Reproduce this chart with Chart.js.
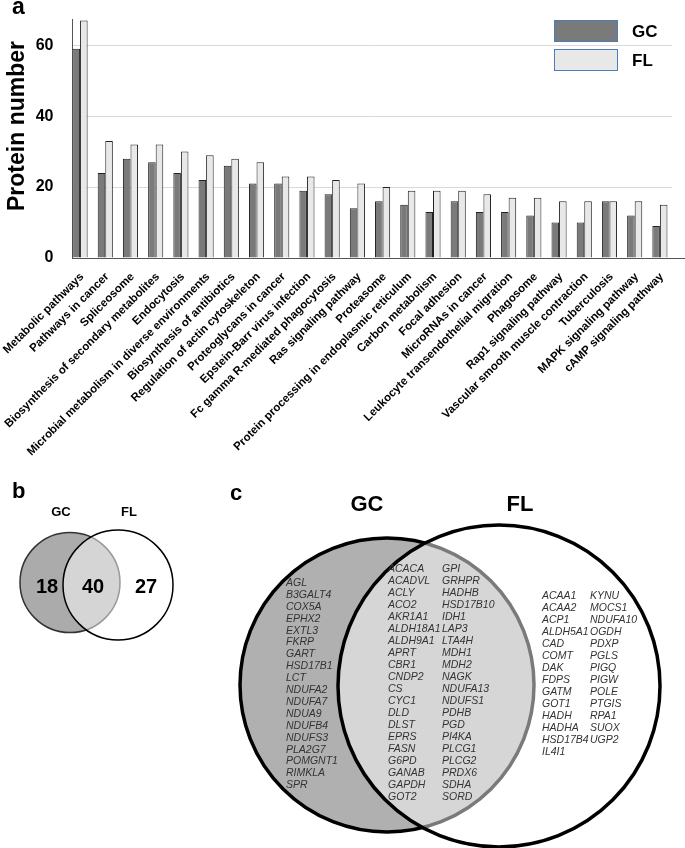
<!DOCTYPE html>
<html>
<head>
<meta charset="utf-8">
<script src="https://cdn.jsdelivr.net/npm/chart.js@4.4.0/dist/chart.umd.min.js"></script>
<style>
  body { margin: 0; background: #fff; }
  #page { position: relative; width: 685px; height: 848px; overflow: hidden; font-family: "Liberation Sans", Arial, sans-serif; }
  #barras { position: absolute; left: 0; top: 0; }
  #venn { position: absolute; left: 0; top: 460px; }
  .ley { position: absolute; left: 554px; width: 62px; height: 20px; border: 1.5px solid #4a7ebb; }
  .ley-txt { position: absolute; left: 632px; font-weight: bold; font-size: 17px; line-height: 23px; }
</style>
</head>
<body>
<div id="page">
  <canvas id="barras" width="685" height="460"></canvas>
  <canvas id="venn" width="685" height="388"></canvas>
  <div class="ley" style="top:20px; background:#7a7a7a"></div>
  <div class="ley-txt" style="top:20px">GC</div>
  <div class="ley" style="top:49px; background:#e8e8e8"></div>
  <div class="ley-txt" style="top:49px">FL</div>
</div>
<script type="text/javascript">

    // categorias KEGG
    var categorias = ["Metabolic pathways", "Pathways in cancer", "Spliceosome",
        "Biosynthesis of secondary metabolites", "Endocytosis",
        "Microbial metabolism in diverse environments", "Biosynthesis of antibiotics",
        "Regulation of actin cytoskeleton", "Proteoglycans in cancer",
        "Epstein-Barr virus infection", "Fc gamma R-mediated phagocytosis",
        "Ras signaling pathway", "Proteasome", "Protein processing in endoplasmic reticulum",
        "Carbon metabolism", "Focal adhesion", "MicroRNAs in cancer",
        "Leukocyte transendothelial migration", "Phagosome", "Rap1 signaling pathway",
        "Vascular smooth muscle contraction", "Tuberculosis", "MAPK signaling pathway",
        "cAMP signaling pathway"]
    var proteinasGC = [59, 24, 28, 27, 24, 22, 26, 21, 21, 19, 18, 14, 16, 15, 13, 16, 13, 13, 12, 10, 10, 16, 12, 9]
    var proteinasFL = [67, 33, 32, 32, 30, 29, 28, 27, 23, 23, 22, 21, 20, 19, 19, 19, 18, 17, 17, 16, 16, 16, 16, 15]
    var ticksY = [0, 20, 40, 60]

    // diagramas de Venn
    var conjuntos = ["GC", "FL"]
    var conteosVenn = [18, 40, 27]
    var genesSoloGC = ["AGL", "B3GALT4", "COX5A", "EPHX2", "EXTL3", "FKRP", "GART", "HSD17B1", "LCT",
        "NDUFA2", "NDUFA7", "NDUA9", "NDUFB4", "NDUFS3", "PLA2G7", "POMGNT1", "RIMKLA", "SPR"]
    var genesAmbos1 = ["ACACA", "ACADVL", "ACLY", "ACO2", "AKR1A1", "ALDH18A1", "ALDH9A1", "APRT", "CBR1",
        "CNDP2", "CS", "CYC1", "DLD", "DLST", "EPRS", "FASN", "G6PD", "GANAB", "GAPDH", "GOT2"]
    var genesAmbos2 = ["GPI", "GRHPR", "HADHB", "HSD17B10", "IDH1", "LAP3", "LTA4H", "MDH1", "MDH2",
        "NAGK", "NDUFA13", "NDUFS1", "PDHB", "PGD", "PI4KA", "PLCG1", "PLCG2", "PRDX6", "SDHA", "SORD"]
    var genesSoloFL1 = ["ACAA1", "ACAA2", "ACP1", "ALDH5A1", "CAD", "COMT", "DAK", "FDPS", "GATM",
        "GOT1", "HADH", "HADHA", "HSD17B4", "IL4I1"]
    var genesSoloFL2 = ["KYNU", "MOCS1", "NDUFA10", "OGDH", "PDXP", "PGLS", "PIGQ", "PIGW", "POLE",
        "PTGIS", "RPA1", "SUOX", "UGP2"]

    var fuente = '"Liberation Sans", Arial, sans-serif'
    Chart.defaults.font.family = fuente
    Chart.defaults.color = '#000'

    // ---------- panel a ----------
    var textosA = {
        id: 'textosA',
        afterDraw(chart) {
            var ctx = chart.ctx
            var area = chart.chartArea
            ctx.save()
            // el eje x sigue un poco mas alla del area
            ctx.strokeStyle = '#555'
            ctx.lineWidth = 1
            ctx.beginPath()
            ctx.moveTo(area.right, area.bottom + 0.5)
            ctx.lineTo(685, area.bottom + 0.5)
            ctx.stroke()

            ctx.fillStyle = '#000'
            ctx.font = 'bold 23px ' + fuente
            ctx.textBaseline = 'alphabetic'
            ctx.fillText('a', 12, 14)
            // titulo eje y
            ctx.translate(18, 126)
            ctx.rotate(-Math.PI / 2)
            ctx.textAlign = 'center'
            ctx.textBaseline = 'middle'
            ctx.font = 'bold 23px ' + fuente
            ctx.fillText('Protein number', 0, 0)
            ctx.restore()
        }
    }

    new Chart(document.getElementById('barras'), {
        type: 'bar',
        data: {
            datasets: [{
                label: 'GC',
                data: proteinasGC.map((v, i) => ({x: i, y: v})),
                backgroundColor: '#7a7a7a',
                borderColor: '#222',
                borderWidth: 1
            }, {
                label: 'FL',
                data: proteinasFL.map((v, i) => ({x: i, y: v})),
                backgroundColor: '#e8e8e8',
                borderColor: '#222',
                borderWidth: 1
            }]
        },
        options: {
            responsive: false,
            animation: false,
            layout: { padding: { top: 19, right: 13, left: 0, bottom: 0 } },
            datasets: { bar: { categoryPercentage: 0.6, barPercentage: 1 } },
            plugins: { legend: { display: false }, tooltip: { enabled: false } },
            scales: {
                x: {
                    type: 'linear',
                    offset: false,
                    min: -0.3,
                    max: 23.48,
                    afterBuildTicks: s => { s.ticks = categorias.map((c, i) => ({value: i})) },
                    afterFit: s => { s.height = 202; s.paddingLeft = 0; s.paddingRight = 0 },
                    grid: { display: false, offset: false },
                    border: { color: '#555', width: 1 },
                    ticks: {
                        autoSkip: false,
                        minRotation: 45,
                        maxRotation: 45,
                        padding: 4,
                        labelOffset: 2,
                        font: { size: 11.5, weight: 'bold' },
                        callback: (v, i) => categorias[i]
                    }
                },
                y: {
                    min: 0,
                    max: 67.4,
                    afterBuildTicks: s => { s.ticks = ticksY.map(v => ({value: v})) },
                    afterFit: s => { s.width = 72.5; s.paddingTop = 0; s.paddingBottom = 0 },
                    grid: {
                        drawTicks: false,
                        color: c => (c.tick && c.tick.value === 0) ? 'rgba(0,0,0,0)' : '#d9d9d9'
                    },
                    border: { color: '#555', width: 1 },
                    ticks: { padding: 19, font: { size: 16, weight: 'bold' } }
                }
            }
        },
        plugins: [textosA]
    });

    // ---------- paneles b y c ----------
    // geometria de los circulos en unidades del lienzo
    var geo = {
        b: { GC: {x: 70, y: 582.5, r: 50}, FL: {x: 118, y: 585, r: 55}, linea: 1.5 },
        c: { GC: {x: 387, y: 685, r: 147}, FL: {x: 499, y: 686, r: 161}, linea: 3.5 }
    }

    var textosVenn = {
        id: 'textosVenn',
        afterDatasetsDraw(chart) {
            var ctx = chart.ctx
            var sx = v => chart.scales.x.getPixelForValue(v)
            var sy = v => chart.scales.y.getPixelForValue(v)
            ctx.save()
            ctx.fillStyle = '#000'
            ctx.textBaseline = 'alphabetic'
            ctx.textAlign = 'left'
            ctx.font = 'bold 22px ' + fuente
            ctx.fillText('b', sx(12), sy(498))
            ctx.fillText('c', sx(230), sy(500))

            ctx.textAlign = 'center'
            ctx.textBaseline = 'middle'
            // panel b
            ctx.font = 'bold 13px ' + fuente
            ctx.fillText(conjuntos[0], sx(61), sy(512))
            ctx.fillText(conjuntos[1], sx(129), sy(512))
            ctx.font = 'bold 20px ' + fuente
            ctx.fillText(conteosVenn[0], sx(47), sy(587))
            ctx.fillText(conteosVenn[1], sx(93), sy(587))
            ctx.fillText(conteosVenn[2], sx(146), sy(587))
            // panel c
            ctx.font = 'bold 22px ' + fuente
            ctx.fillText(conjuntos[0], sx(367), sy(505))
            ctx.fillText(conjuntos[1], sx(520), sy(505))

            ctx.textAlign = 'left'
            ctx.font = 'italic 10.5px ' + fuente
            ctx.fillStyle = '#333'
            var columnas = [
                [genesSoloGC, 286, 583, 11.9],
                [genesAmbos1, 388, 569, 12],
                [genesAmbos2, 442, 569, 12],
                [genesSoloFL1, 542, 596, 12],
                [genesSoloFL2, 590, 596, 12]
            ]
            columnas.forEach(col => {
                col[0].forEach((g, i) => {
                    ctx.fillText(g, sx(col[1]), sy(col[2] + i * col[3]))
                })
            })
            ctx.restore()
        }
    }

    function circulo(panel, set, relleno, borde, orden) {
        var g = geo[panel][set]
        return {
            label: panel + set,
            data: [{x: g.x, y: g.y, r: g.r}],
            backgroundColor: relleno,
            borderColor: borde,
            borderWidth: geo[panel].linea,
            hoverBorderWidth: geo[panel].linea,
            order: orden,
            clip: false
        }
    }

    new Chart(document.getElementById('venn'), {
        type: 'bubble',
        data: {
            datasets: [
                circulo('b', 'GC', '#ababab', '#333', 2),
                circulo('c', 'GC', '#b0b0b0', '#000', 2),
                circulo('b', 'FL', 'rgba(255,255,255,0.5)', '#000', 1),
                circulo('c', 'FL', 'rgba(255,255,255,0.48)', '#000', 1)
            ]
        },
        options: {
            responsive: false,
            animation: false,
            layout: { padding: 0, autoPadding: false },
            plugins: { legend: { display: false }, tooltip: { enabled: false } },
            scales: {
                x: { type: 'linear', min: 0, max: 685, display: false },
                y: { type: 'linear', min: 460, max: 848, reverse: true, display: false }
            }
        },
        plugins: [textosVenn]
    });

</script>
</body>
</html>
